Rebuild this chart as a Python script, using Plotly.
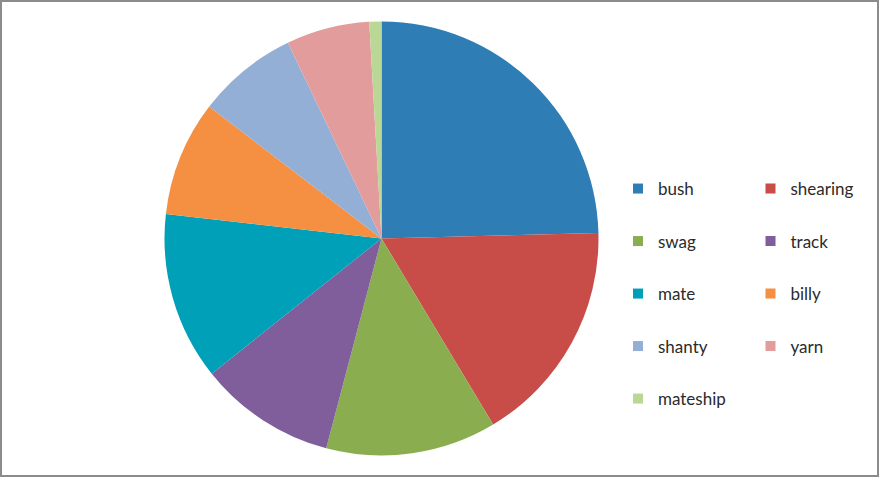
import plotly.graph_objects as go

labels = ["bush", "shearing", "swag", "track", "mate", "billy", "shanty", "yarn", "mateship"]
values = [24.6, 16.8, 12.7, 10.2, 12.5, 8.6, 7.5, 6.2, 0.9]
colors = ["#2E7DB5", "#C84C48", "#8AAD4F", "#7F5E9B", "#00A0B9", "#F58F41", "#94AFD5", "#E39C9C", "#BBD796"]

W, H = 879, 477
fig = go.Figure()

fig.add_trace(go.Pie(
    labels=labels, values=values, sort=False, direction="clockwise", rotation=0,
    marker=dict(colors=colors, line=dict(width=0)),
    textinfo="none", hoverinfo="label+value", showlegend=False,
    domain=dict(x=[164.5 / W, 598.5 / W], y=[(H - 455.5) / H, (H - 21.5) / H]),
))

# legend entries: two columns
for i, (lab, col) in enumerate(zip(labels, colors)):
    fig.add_trace(go.Scatter(
        x=[None], y=[None], mode="markers", name=lab,
        marker=dict(symbol="square", size=10, color=col),
        legend="legend" if i % 2 == 0 else "legend2",
        legendgroup=lab, showlegend=True, hoverinfo="skip",
    ))

leg_common = dict(
    orientation="v", traceorder="grouped", tracegroupgap=27.4,
    bgcolor="rgba(0,0,0,0)", borderwidth=0,
    font=dict(family="Lato, sans-serif", size=17, color="#2b2b2b"),
    xanchor="left", yanchor="top", indentation=-8,
)

fig.update_layout(
    width=W, height=H,
    margin=dict(l=0, r=0, t=0, b=0),
    paper_bgcolor="white", plot_bgcolor="white",
    xaxis=dict(visible=False), yaxis=dict(visible=False),
    legend=dict(x=626 / W, y=1 - 171 / H, **leg_common),
    legend2=dict(x=758.5 / W, y=1 - 171 / H, **leg_common),
    shapes=[dict(type="rect", xref="paper", yref="paper", x0=0, y0=0, x1=1, y1=1,
                 line=dict(color="#8c8c8c", width=4), fillcolor="rgba(0,0,0,0)", layer="above")],
)

fig.write_html("out.html", config={"displayModeBar": False},
               post_script="document.body.style.margin='0';")
